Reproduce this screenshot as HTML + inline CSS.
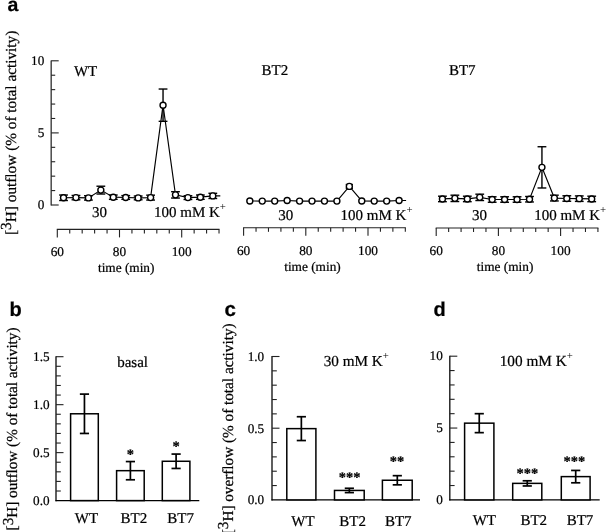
<!DOCTYPE html>
<html lang="en">
<head>
<meta charset="utf-8">
<title>Figure</title>
<style>
html, body { margin: 0; padding: 0; background: #fff; }
body { width: 606px; height: 532px; overflow: hidden; }
svg { display: block; }
text { white-space: pre; stroke: #000; stroke-width: 0.22px; text-rendering: geometricPrecision; }
</style>
</head>
<body>
<svg width="606" height="532" viewBox="0 0 606 532">
<rect x="0" y="0" width="606" height="532" fill="#fff"/>
<g id="panel-a">
<text x="7.50" y="10.60" font-size="19.5" text-anchor="start" font-family='"Liberation Sans", "DejaVu Sans", sans-serif' font-weight="bold" fill="#000" >a</text>
<line x1="51.20" y1="60.50" x2="51.20" y2="205.60" stroke="#4a4a4a" stroke-width="1.5" />
<line x1="51.20" y1="205.00" x2="58.70" y2="205.00" stroke="#222" stroke-width="1.1" />
<line x1="51.20" y1="190.58" x2="55.20" y2="190.58" stroke="#222" stroke-width="1.1" />
<line x1="51.20" y1="176.16" x2="55.20" y2="176.16" stroke="#222" stroke-width="1.1" />
<line x1="51.20" y1="161.74" x2="55.20" y2="161.74" stroke="#222" stroke-width="1.1" />
<line x1="51.20" y1="147.32" x2="55.20" y2="147.32" stroke="#222" stroke-width="1.1" />
<line x1="51.20" y1="132.90" x2="58.70" y2="132.90" stroke="#222" stroke-width="1.1" />
<line x1="51.20" y1="118.48" x2="55.20" y2="118.48" stroke="#222" stroke-width="1.1" />
<line x1="51.20" y1="104.06" x2="55.20" y2="104.06" stroke="#222" stroke-width="1.1" />
<line x1="51.20" y1="89.64" x2="55.20" y2="89.64" stroke="#222" stroke-width="1.1" />
<line x1="51.20" y1="75.22" x2="55.20" y2="75.22" stroke="#222" stroke-width="1.1" />
<line x1="51.20" y1="60.80" x2="58.70" y2="60.80" stroke="#222" stroke-width="1.1" />
<text x="44.30" y="209.30" font-size="13.2" text-anchor="end" font-family='"Liberation Serif", "DejaVu Serif", serif' font-weight="normal" fill="#000" >0</text>
<text x="44.30" y="137.20" font-size="13.2" text-anchor="end" font-family='"Liberation Serif", "DejaVu Serif", serif' font-weight="normal" fill="#000" >5</text>
<text x="44.30" y="65.10" font-size="13.2" text-anchor="end" font-family='"Liberation Serif", "DejaVu Serif", serif' font-weight="normal" fill="#000" >10</text>
<text transform="translate(15.60,235.00) rotate(-90)" font-size="15.3" font-family='"Liberation Serif", "DejaVu Serif", serif' fill="#000">[<tspan dy="-4.7">3</tspan><tspan dy="4.7">H] outflow (% of total activity)</tspan></text>
<line x1="56.80" y1="229.40" x2="219.52" y2="229.40" stroke="#222" stroke-width="1.1" />
<line x1="57.30" y1="229.40" x2="57.30" y2="237.40" stroke="#222" stroke-width="1.1" />
<line x1="69.74" y1="229.40" x2="69.74" y2="233.40" stroke="#222" stroke-width="1.1" />
<line x1="82.18" y1="229.40" x2="82.18" y2="233.40" stroke="#222" stroke-width="1.1" />
<line x1="94.62" y1="229.40" x2="94.62" y2="233.40" stroke="#222" stroke-width="1.1" />
<line x1="107.06" y1="229.40" x2="107.06" y2="233.40" stroke="#222" stroke-width="1.1" />
<line x1="119.50" y1="229.40" x2="119.50" y2="237.40" stroke="#222" stroke-width="1.1" />
<line x1="131.94" y1="229.40" x2="131.94" y2="233.40" stroke="#222" stroke-width="1.1" />
<line x1="144.38" y1="229.40" x2="144.38" y2="233.40" stroke="#222" stroke-width="1.1" />
<line x1="156.82" y1="229.40" x2="156.82" y2="233.40" stroke="#222" stroke-width="1.1" />
<line x1="169.26" y1="229.40" x2="169.26" y2="233.40" stroke="#222" stroke-width="1.1" />
<line x1="181.70" y1="229.40" x2="181.70" y2="237.40" stroke="#222" stroke-width="1.1" />
<line x1="194.14" y1="229.40" x2="194.14" y2="233.40" stroke="#222" stroke-width="1.1" />
<line x1="206.58" y1="229.40" x2="206.58" y2="233.40" stroke="#222" stroke-width="1.1" />
<line x1="219.02" y1="229.40" x2="219.02" y2="233.40" stroke="#222" stroke-width="1.1" />
<text x="57.30" y="256.20" font-size="13.3" text-anchor="middle" font-family='"Liberation Serif", "DejaVu Serif", serif' font-weight="normal" fill="#000" >60</text>
<text x="119.50" y="256.20" font-size="13.3" text-anchor="middle" font-family='"Liberation Serif", "DejaVu Serif", serif' font-weight="normal" fill="#000" >80</text>
<text x="181.70" y="256.20" font-size="13.3" text-anchor="middle" font-family='"Liberation Serif", "DejaVu Serif", serif' font-weight="normal" fill="#000" >100</text>
<text x="126.19" y="272.00" font-size="13.3" text-anchor="middle" font-family='"Liberation Serif", "DejaVu Serif", serif' font-weight="normal" fill="#000" >time (min)</text>
<polyline points="63.52,197.76 75.96,197.61 88.40,197.90 100.84,190.11 113.28,197.18 125.72,197.47 138.16,197.90 150.60,197.61 163.04,105.18 175.48,194.87 187.92,197.61 200.36,197.18 212.80,195.88 220.30,195.88" fill="none" stroke="#000" stroke-width="1.15" stroke-linejoin="miter"/>
<line x1="63.52" y1="195.02" x2="63.52" y2="200.50" stroke="#000" stroke-width="1.4" />
<line x1="59.12" y1="195.02" x2="67.92" y2="195.02" stroke="#000" stroke-width="1.4" />
<line x1="59.12" y1="200.50" x2="67.92" y2="200.50" stroke="#000" stroke-width="1.4" />
<line x1="75.96" y1="195.45" x2="75.96" y2="199.78" stroke="#000" stroke-width="1.4" />
<line x1="71.56" y1="195.45" x2="80.36" y2="195.45" stroke="#000" stroke-width="1.4" />
<line x1="71.56" y1="199.78" x2="80.36" y2="199.78" stroke="#000" stroke-width="1.4" />
<line x1="88.40" y1="195.74" x2="88.40" y2="200.06" stroke="#000" stroke-width="1.4" />
<line x1="84.00" y1="195.74" x2="92.80" y2="195.74" stroke="#000" stroke-width="1.4" />
<line x1="84.00" y1="200.06" x2="92.80" y2="200.06" stroke="#000" stroke-width="1.4" />
<line x1="100.84" y1="186.22" x2="100.84" y2="194.01" stroke="#000" stroke-width="1.4" />
<line x1="96.44" y1="186.22" x2="105.24" y2="186.22" stroke="#000" stroke-width="1.4" />
<line x1="96.44" y1="194.01" x2="105.24" y2="194.01" stroke="#000" stroke-width="1.4" />
<line x1="113.28" y1="195.02" x2="113.28" y2="199.34" stroke="#000" stroke-width="1.4" />
<line x1="108.88" y1="195.02" x2="117.68" y2="195.02" stroke="#000" stroke-width="1.4" />
<line x1="108.88" y1="199.34" x2="117.68" y2="199.34" stroke="#000" stroke-width="1.4" />
<line x1="125.72" y1="195.59" x2="125.72" y2="199.34" stroke="#000" stroke-width="1.4" />
<line x1="121.32" y1="195.59" x2="130.12" y2="195.59" stroke="#000" stroke-width="1.4" />
<line x1="121.32" y1="199.34" x2="130.12" y2="199.34" stroke="#000" stroke-width="1.4" />
<line x1="138.16" y1="196.03" x2="138.16" y2="199.78" stroke="#000" stroke-width="1.4" />
<line x1="133.76" y1="196.03" x2="142.56" y2="196.03" stroke="#000" stroke-width="1.4" />
<line x1="133.76" y1="199.78" x2="142.56" y2="199.78" stroke="#000" stroke-width="1.4" />
<line x1="150.60" y1="195.16" x2="150.60" y2="200.06" stroke="#000" stroke-width="1.4" />
<line x1="146.20" y1="195.16" x2="155.00" y2="195.16" stroke="#000" stroke-width="1.4" />
<line x1="146.20" y1="200.06" x2="155.00" y2="200.06" stroke="#000" stroke-width="1.4" />
<line x1="163.04" y1="89.03" x2="163.04" y2="121.33" stroke="#000" stroke-width="1.4" />
<line x1="158.64" y1="89.03" x2="167.44" y2="89.03" stroke="#000" stroke-width="1.4" />
<line x1="158.64" y1="121.33" x2="167.44" y2="121.33" stroke="#000" stroke-width="1.4" />
<line x1="175.48" y1="191.70" x2="175.48" y2="198.05" stroke="#000" stroke-width="1.4" />
<line x1="171.08" y1="191.70" x2="179.88" y2="191.70" stroke="#000" stroke-width="1.4" />
<line x1="171.08" y1="198.05" x2="179.88" y2="198.05" stroke="#000" stroke-width="1.4" />
<line x1="187.92" y1="195.74" x2="187.92" y2="199.49" stroke="#000" stroke-width="1.4" />
<line x1="183.52" y1="195.74" x2="192.32" y2="195.74" stroke="#000" stroke-width="1.4" />
<line x1="183.52" y1="199.49" x2="192.32" y2="199.49" stroke="#000" stroke-width="1.4" />
<line x1="200.36" y1="195.02" x2="200.36" y2="199.34" stroke="#000" stroke-width="1.4" />
<line x1="195.96" y1="195.02" x2="204.76" y2="195.02" stroke="#000" stroke-width="1.4" />
<line x1="195.96" y1="199.34" x2="204.76" y2="199.34" stroke="#000" stroke-width="1.4" />
<line x1="212.80" y1="193.29" x2="212.80" y2="198.48" stroke="#000" stroke-width="1.4" />
<line x1="208.40" y1="193.29" x2="217.20" y2="193.29" stroke="#000" stroke-width="1.4" />
<line x1="208.40" y1="198.48" x2="217.20" y2="198.48" stroke="#000" stroke-width="1.4" />
<circle cx="63.52" cy="197.76" r="3.0" fill="#fff" stroke="#000" stroke-width="1.4"/>
<circle cx="75.96" cy="197.61" r="3.0" fill="#fff" stroke="#000" stroke-width="1.4"/>
<circle cx="88.40" cy="197.90" r="3.0" fill="#fff" stroke="#000" stroke-width="1.4"/>
<circle cx="100.84" cy="190.11" r="3.0" fill="#fff" stroke="#000" stroke-width="1.4"/>
<circle cx="113.28" cy="197.18" r="3.0" fill="#fff" stroke="#000" stroke-width="1.4"/>
<circle cx="125.72" cy="197.47" r="3.0" fill="#fff" stroke="#000" stroke-width="1.4"/>
<circle cx="138.16" cy="197.90" r="3.0" fill="#fff" stroke="#000" stroke-width="1.4"/>
<circle cx="150.60" cy="197.61" r="3.0" fill="#fff" stroke="#000" stroke-width="1.4"/>
<circle cx="163.04" cy="105.18" r="3.0" fill="#fff" stroke="#000" stroke-width="1.4"/>
<circle cx="175.48" cy="194.87" r="3.0" fill="#fff" stroke="#000" stroke-width="1.4"/>
<circle cx="187.92" cy="197.61" r="3.0" fill="#fff" stroke="#000" stroke-width="1.4"/>
<circle cx="200.36" cy="197.18" r="3.0" fill="#fff" stroke="#000" stroke-width="1.4"/>
<circle cx="212.80" cy="195.88" r="3.0" fill="#fff" stroke="#000" stroke-width="1.4"/>
<text x="92.00" y="216.80" font-size="15" text-anchor="start" font-family='"Liberation Serif", "DejaVu Serif", serif' font-weight="normal" fill="#000" >30</text>
<text x="154.00" y="216.80" font-size="15" text-anchor="start" font-family='"Liberation Serif", "DejaVu Serif", serif' font-weight="normal" fill="#000" >100 mM K<tspan font-size="10.8" dy="-7.2" stroke-width="0">+</tspan></text>
<text x="73.90" y="75.70" font-size="15" text-anchor="start" font-family='"Liberation Serif", "DejaVu Serif", serif' font-weight="normal" fill="#000" >WT</text>
<line x1="243.10" y1="227.80" x2="405.82" y2="227.80" stroke="#222" stroke-width="1.1" />
<line x1="243.60" y1="227.80" x2="243.60" y2="235.80" stroke="#222" stroke-width="1.1" />
<line x1="256.04" y1="227.80" x2="256.04" y2="231.80" stroke="#222" stroke-width="1.1" />
<line x1="268.48" y1="227.80" x2="268.48" y2="231.80" stroke="#222" stroke-width="1.1" />
<line x1="280.92" y1="227.80" x2="280.92" y2="231.80" stroke="#222" stroke-width="1.1" />
<line x1="293.36" y1="227.80" x2="293.36" y2="231.80" stroke="#222" stroke-width="1.1" />
<line x1="305.80" y1="227.80" x2="305.80" y2="235.80" stroke="#222" stroke-width="1.1" />
<line x1="318.24" y1="227.80" x2="318.24" y2="231.80" stroke="#222" stroke-width="1.1" />
<line x1="330.68" y1="227.80" x2="330.68" y2="231.80" stroke="#222" stroke-width="1.1" />
<line x1="343.12" y1="227.80" x2="343.12" y2="231.80" stroke="#222" stroke-width="1.1" />
<line x1="355.56" y1="227.80" x2="355.56" y2="231.80" stroke="#222" stroke-width="1.1" />
<line x1="368.00" y1="227.80" x2="368.00" y2="235.80" stroke="#222" stroke-width="1.1" />
<line x1="380.44" y1="227.80" x2="380.44" y2="231.80" stroke="#222" stroke-width="1.1" />
<line x1="392.88" y1="227.80" x2="392.88" y2="231.80" stroke="#222" stroke-width="1.1" />
<line x1="405.32" y1="227.80" x2="405.32" y2="231.80" stroke="#222" stroke-width="1.1" />
<text x="243.60" y="255.10" font-size="13.3" text-anchor="middle" font-family='"Liberation Serif", "DejaVu Serif", serif' font-weight="normal" fill="#000" >60</text>
<text x="305.80" y="255.10" font-size="13.3" text-anchor="middle" font-family='"Liberation Serif", "DejaVu Serif", serif' font-weight="normal" fill="#000" >80</text>
<text x="368.00" y="255.10" font-size="13.3" text-anchor="middle" font-family='"Liberation Serif", "DejaVu Serif", serif' font-weight="normal" fill="#000" >100</text>
<text x="312.49" y="271.40" font-size="13.3" text-anchor="middle" font-family='"Liberation Serif", "DejaVu Serif", serif' font-weight="normal" fill="#000" >time (min)</text>
<polyline points="249.82,200.96 262.26,201.11 274.70,201.11 287.14,200.53 299.58,201.11 312.02,201.11 324.46,201.11 336.90,201.11 349.34,186.40 361.78,200.96 374.22,201.11 386.66,201.11 399.10,200.53 406.10,200.53" fill="none" stroke="#000" stroke-width="1.15" stroke-linejoin="miter"/>
<line x1="349.34" y1="184.52" x2="349.34" y2="188.27" stroke="#000" stroke-width="1.4" />
<line x1="345.74" y1="184.52" x2="352.94" y2="184.52" stroke="#000" stroke-width="1.4" />
<line x1="345.74" y1="188.27" x2="352.94" y2="188.27" stroke="#000" stroke-width="1.4" />
<circle cx="249.82" cy="200.96" r="3.0" fill="#fff" stroke="#000" stroke-width="1.4"/>
<circle cx="262.26" cy="201.11" r="3.0" fill="#fff" stroke="#000" stroke-width="1.4"/>
<circle cx="274.70" cy="201.11" r="3.0" fill="#fff" stroke="#000" stroke-width="1.4"/>
<circle cx="287.14" cy="200.53" r="3.0" fill="#fff" stroke="#000" stroke-width="1.4"/>
<circle cx="299.58" cy="201.11" r="3.0" fill="#fff" stroke="#000" stroke-width="1.4"/>
<circle cx="312.02" cy="201.11" r="3.0" fill="#fff" stroke="#000" stroke-width="1.4"/>
<circle cx="324.46" cy="201.11" r="3.0" fill="#fff" stroke="#000" stroke-width="1.4"/>
<circle cx="336.90" cy="201.11" r="3.0" fill="#fff" stroke="#000" stroke-width="1.4"/>
<circle cx="349.34" cy="186.40" r="3.0" fill="#fff" stroke="#000" stroke-width="1.4"/>
<circle cx="361.78" cy="200.96" r="3.0" fill="#fff" stroke="#000" stroke-width="1.4"/>
<circle cx="374.22" cy="201.11" r="3.0" fill="#fff" stroke="#000" stroke-width="1.4"/>
<circle cx="386.66" cy="201.11" r="3.0" fill="#fff" stroke="#000" stroke-width="1.4"/>
<circle cx="399.10" cy="200.53" r="3.0" fill="#fff" stroke="#000" stroke-width="1.4"/>
<text x="278.30" y="220.00" font-size="15" text-anchor="start" font-family='"Liberation Serif", "DejaVu Serif", serif' font-weight="normal" fill="#000" >30</text>
<text x="340.60" y="220.00" font-size="15" text-anchor="start" font-family='"Liberation Serif", "DejaVu Serif", serif' font-weight="normal" fill="#000" >100 mM K<tspan font-size="10.8" dy="-7.2" stroke-width="0">+</tspan></text>
<text x="261.50" y="74.80" font-size="15" text-anchor="start" font-family='"Liberation Serif", "DejaVu Serif", serif' font-weight="normal" fill="#000" >BT2</text>
<line x1="435.70" y1="228.00" x2="598.42" y2="228.00" stroke="#222" stroke-width="1.1" />
<line x1="436.20" y1="228.00" x2="436.20" y2="236.00" stroke="#222" stroke-width="1.1" />
<line x1="448.64" y1="228.00" x2="448.64" y2="232.00" stroke="#222" stroke-width="1.1" />
<line x1="461.08" y1="228.00" x2="461.08" y2="232.00" stroke="#222" stroke-width="1.1" />
<line x1="473.52" y1="228.00" x2="473.52" y2="232.00" stroke="#222" stroke-width="1.1" />
<line x1="485.96" y1="228.00" x2="485.96" y2="232.00" stroke="#222" stroke-width="1.1" />
<line x1="498.40" y1="228.00" x2="498.40" y2="236.00" stroke="#222" stroke-width="1.1" />
<line x1="510.84" y1="228.00" x2="510.84" y2="232.00" stroke="#222" stroke-width="1.1" />
<line x1="523.28" y1="228.00" x2="523.28" y2="232.00" stroke="#222" stroke-width="1.1" />
<line x1="535.72" y1="228.00" x2="535.72" y2="232.00" stroke="#222" stroke-width="1.1" />
<line x1="548.16" y1="228.00" x2="548.16" y2="232.00" stroke="#222" stroke-width="1.1" />
<line x1="560.60" y1="228.00" x2="560.60" y2="236.00" stroke="#222" stroke-width="1.1" />
<line x1="573.04" y1="228.00" x2="573.04" y2="232.00" stroke="#222" stroke-width="1.1" />
<line x1="585.48" y1="228.00" x2="585.48" y2="232.00" stroke="#222" stroke-width="1.1" />
<line x1="597.92" y1="228.00" x2="597.92" y2="232.00" stroke="#222" stroke-width="1.1" />
<text x="436.20" y="255.10" font-size="13.3" text-anchor="middle" font-family='"Liberation Serif", "DejaVu Serif", serif' font-weight="normal" fill="#000" >60</text>
<text x="498.40" y="255.10" font-size="13.3" text-anchor="middle" font-family='"Liberation Serif", "DejaVu Serif", serif' font-weight="normal" fill="#000" >80</text>
<text x="560.60" y="255.10" font-size="13.3" text-anchor="middle" font-family='"Liberation Serif", "DejaVu Serif", serif' font-weight="normal" fill="#000" >100</text>
<text x="505.09" y="271.40" font-size="13.3" text-anchor="middle" font-family='"Liberation Serif", "DejaVu Serif", serif' font-weight="normal" fill="#000" >time (min)</text>
<polyline points="442.42,198.94 454.86,198.37 467.30,198.94 479.74,197.36 492.18,199.52 504.62,199.52 517.06,199.52 529.50,199.23 541.94,167.36 554.38,198.08 566.82,198.51 579.26,198.66 591.70,198.94" fill="none" stroke="#000" stroke-width="1.15" stroke-linejoin="miter"/>
<line x1="442.42" y1="196.20" x2="442.42" y2="201.68" stroke="#000" stroke-width="1.4" />
<line x1="438.02" y1="196.20" x2="446.82" y2="196.20" stroke="#000" stroke-width="1.4" />
<line x1="438.02" y1="201.68" x2="446.82" y2="201.68" stroke="#000" stroke-width="1.4" />
<line x1="454.86" y1="195.19" x2="454.86" y2="201.54" stroke="#000" stroke-width="1.4" />
<line x1="450.46" y1="195.19" x2="459.26" y2="195.19" stroke="#000" stroke-width="1.4" />
<line x1="450.46" y1="201.54" x2="459.26" y2="201.54" stroke="#000" stroke-width="1.4" />
<line x1="467.30" y1="196.20" x2="467.30" y2="201.68" stroke="#000" stroke-width="1.4" />
<line x1="462.90" y1="196.20" x2="471.70" y2="196.20" stroke="#000" stroke-width="1.4" />
<line x1="462.90" y1="201.68" x2="471.70" y2="201.68" stroke="#000" stroke-width="1.4" />
<line x1="479.74" y1="194.19" x2="479.74" y2="200.53" stroke="#000" stroke-width="1.4" />
<line x1="475.34" y1="194.19" x2="484.14" y2="194.19" stroke="#000" stroke-width="1.4" />
<line x1="475.34" y1="200.53" x2="484.14" y2="200.53" stroke="#000" stroke-width="1.4" />
<line x1="492.18" y1="196.78" x2="492.18" y2="202.26" stroke="#000" stroke-width="1.4" />
<line x1="487.78" y1="196.78" x2="496.58" y2="196.78" stroke="#000" stroke-width="1.4" />
<line x1="487.78" y1="202.26" x2="496.58" y2="202.26" stroke="#000" stroke-width="1.4" />
<line x1="504.62" y1="196.78" x2="504.62" y2="202.26" stroke="#000" stroke-width="1.4" />
<line x1="500.22" y1="196.78" x2="509.02" y2="196.78" stroke="#000" stroke-width="1.4" />
<line x1="500.22" y1="202.26" x2="509.02" y2="202.26" stroke="#000" stroke-width="1.4" />
<line x1="517.06" y1="196.78" x2="517.06" y2="202.26" stroke="#000" stroke-width="1.4" />
<line x1="512.66" y1="196.78" x2="521.46" y2="196.78" stroke="#000" stroke-width="1.4" />
<line x1="512.66" y1="202.26" x2="521.46" y2="202.26" stroke="#000" stroke-width="1.4" />
<line x1="529.50" y1="196.49" x2="529.50" y2="201.97" stroke="#000" stroke-width="1.4" />
<line x1="525.10" y1="196.49" x2="533.90" y2="196.49" stroke="#000" stroke-width="1.4" />
<line x1="525.10" y1="201.97" x2="533.90" y2="201.97" stroke="#000" stroke-width="1.4" />
<line x1="541.94" y1="146.74" x2="541.94" y2="187.98" stroke="#000" stroke-width="1.4" />
<line x1="537.54" y1="146.74" x2="546.34" y2="146.74" stroke="#000" stroke-width="1.4" />
<line x1="537.54" y1="187.98" x2="546.34" y2="187.98" stroke="#000" stroke-width="1.4" />
<line x1="554.38" y1="195.19" x2="554.38" y2="200.96" stroke="#000" stroke-width="1.4" />
<line x1="549.98" y1="195.19" x2="558.78" y2="195.19" stroke="#000" stroke-width="1.4" />
<line x1="549.98" y1="200.96" x2="558.78" y2="200.96" stroke="#000" stroke-width="1.4" />
<line x1="566.82" y1="195.77" x2="566.82" y2="201.25" stroke="#000" stroke-width="1.4" />
<line x1="562.42" y1="195.77" x2="571.22" y2="195.77" stroke="#000" stroke-width="1.4" />
<line x1="562.42" y1="201.25" x2="571.22" y2="201.25" stroke="#000" stroke-width="1.4" />
<line x1="579.26" y1="195.92" x2="579.26" y2="201.40" stroke="#000" stroke-width="1.4" />
<line x1="574.86" y1="195.92" x2="583.66" y2="195.92" stroke="#000" stroke-width="1.4" />
<line x1="574.86" y1="201.40" x2="583.66" y2="201.40" stroke="#000" stroke-width="1.4" />
<line x1="591.70" y1="196.20" x2="591.70" y2="201.68" stroke="#000" stroke-width="1.4" />
<line x1="587.30" y1="196.20" x2="596.10" y2="196.20" stroke="#000" stroke-width="1.4" />
<line x1="587.30" y1="201.68" x2="596.10" y2="201.68" stroke="#000" stroke-width="1.4" />
<circle cx="442.42" cy="198.94" r="3.0" fill="#fff" stroke="#000" stroke-width="1.4"/>
<circle cx="454.86" cy="198.37" r="3.0" fill="#fff" stroke="#000" stroke-width="1.4"/>
<circle cx="467.30" cy="198.94" r="3.0" fill="#fff" stroke="#000" stroke-width="1.4"/>
<circle cx="479.74" cy="197.36" r="3.0" fill="#fff" stroke="#000" stroke-width="1.4"/>
<circle cx="492.18" cy="199.52" r="3.0" fill="#fff" stroke="#000" stroke-width="1.4"/>
<circle cx="504.62" cy="199.52" r="3.0" fill="#fff" stroke="#000" stroke-width="1.4"/>
<circle cx="517.06" cy="199.52" r="3.0" fill="#fff" stroke="#000" stroke-width="1.4"/>
<circle cx="529.50" cy="199.23" r="3.0" fill="#fff" stroke="#000" stroke-width="1.4"/>
<circle cx="541.94" cy="167.36" r="3.0" fill="#fff" stroke="#000" stroke-width="1.4"/>
<circle cx="554.38" cy="198.08" r="3.0" fill="#fff" stroke="#000" stroke-width="1.4"/>
<circle cx="566.82" cy="198.51" r="3.0" fill="#fff" stroke="#000" stroke-width="1.4"/>
<circle cx="579.26" cy="198.66" r="3.0" fill="#fff" stroke="#000" stroke-width="1.4"/>
<circle cx="591.70" cy="198.94" r="3.0" fill="#fff" stroke="#000" stroke-width="1.4"/>
<text x="472.00" y="220.20" font-size="15" text-anchor="start" font-family='"Liberation Serif", "DejaVu Serif", serif' font-weight="normal" fill="#000" >30</text>
<text x="534.20" y="220.20" font-size="15" text-anchor="start" font-family='"Liberation Serif", "DejaVu Serif", serif' font-weight="normal" fill="#000" >100 mM K<tspan font-size="10.8" dy="-7.2" stroke-width="0">+</tspan></text>
<text x="448.90" y="74.80" font-size="15" text-anchor="start" font-family='"Liberation Serif", "DejaVu Serif", serif' font-weight="normal" fill="#000" >BT7</text>
</g>
<g id="panel-b">
<text x="9.50" y="316.20" font-size="20" text-anchor="start" font-family='"Liberation Sans", "DejaVu Sans", sans-serif' font-weight="bold" fill="#000" >b</text>
<text transform="translate(17.40,530.40) rotate(-90)" font-size="15.2" font-family='"Liberation Serif", "DejaVu Serif", serif' fill="#000">[<tspan dy="-4.7">3</tspan><tspan dy="4.7">H] outflow (% of total activity)</tspan></text>
<line x1="56.00" y1="356.20" x2="56.00" y2="501.20" stroke="#1a1a1a" stroke-width="1.4" />
<line x1="55.50" y1="500.60" x2="199.30" y2="500.60" stroke="#000" stroke-width="1.3" />
<line x1="56.00" y1="491.01" x2="60.80" y2="491.01" stroke="#222" stroke-width="1.1" />
<line x1="56.00" y1="481.41" x2="60.80" y2="481.41" stroke="#222" stroke-width="1.1" />
<line x1="56.00" y1="471.82" x2="60.80" y2="471.82" stroke="#222" stroke-width="1.1" />
<line x1="56.00" y1="462.23" x2="60.80" y2="462.23" stroke="#222" stroke-width="1.1" />
<line x1="56.00" y1="452.63" x2="63.50" y2="452.63" stroke="#222" stroke-width="1.1" />
<line x1="56.00" y1="443.04" x2="60.80" y2="443.04" stroke="#222" stroke-width="1.1" />
<line x1="56.00" y1="433.45" x2="60.80" y2="433.45" stroke="#222" stroke-width="1.1" />
<line x1="56.00" y1="423.85" x2="60.80" y2="423.85" stroke="#222" stroke-width="1.1" />
<line x1="56.00" y1="414.26" x2="60.80" y2="414.26" stroke="#222" stroke-width="1.1" />
<line x1="56.00" y1="404.67" x2="63.50" y2="404.67" stroke="#222" stroke-width="1.1" />
<line x1="56.00" y1="395.07" x2="60.80" y2="395.07" stroke="#222" stroke-width="1.1" />
<line x1="56.00" y1="385.48" x2="60.80" y2="385.48" stroke="#222" stroke-width="1.1" />
<line x1="56.00" y1="375.89" x2="60.80" y2="375.89" stroke="#222" stroke-width="1.1" />
<line x1="56.00" y1="366.29" x2="60.80" y2="366.29" stroke="#222" stroke-width="1.1" />
<line x1="56.00" y1="356.70" x2="63.50" y2="356.70" stroke="#222" stroke-width="1.1" />
<text x="49.60" y="505.00" font-size="13.2" text-anchor="end" font-family='"Liberation Serif", "DejaVu Serif", serif' font-weight="normal" fill="#000" >0.0</text>
<text x="49.60" y="457.03" font-size="13.2" text-anchor="end" font-family='"Liberation Serif", "DejaVu Serif", serif' font-weight="normal" fill="#000" >0.5</text>
<text x="49.60" y="409.07" font-size="13.2" text-anchor="end" font-family='"Liberation Serif", "DejaVu Serif", serif' font-weight="normal" fill="#000" >1.0</text>
<text x="49.60" y="361.10" font-size="13.2" text-anchor="end" font-family='"Liberation Serif", "DejaVu Serif", serif' font-weight="normal" fill="#000" >1.5</text>
<rect x="70.60" y="413.78" width="27.70" height="86.82" fill="#fff" stroke="#000" stroke-width="1.5"/>
<line x1="84.45" y1="394.11" x2="84.45" y2="433.45" stroke="#000" stroke-width="1.7" />
<line x1="79.85" y1="394.11" x2="89.05" y2="394.11" stroke="#000" stroke-width="1.7" />
<line x1="79.85" y1="433.45" x2="89.05" y2="433.45" stroke="#000" stroke-width="1.7" />
<rect x="116.60" y="470.67" width="27.60" height="29.93" fill="#fff" stroke="#000" stroke-width="1.5"/>
<line x1="130.40" y1="461.56" x2="130.40" y2="479.78" stroke="#000" stroke-width="1.7" />
<line x1="125.80" y1="461.56" x2="135.00" y2="461.56" stroke="#000" stroke-width="1.7" />
<line x1="125.80" y1="479.78" x2="135.00" y2="479.78" stroke="#000" stroke-width="1.7" />
<rect x="162.30" y="461.27" width="27.60" height="39.33" fill="#fff" stroke="#000" stroke-width="1.5"/>
<line x1="176.10" y1="454.07" x2="176.10" y2="468.46" stroke="#000" stroke-width="1.7" />
<line x1="171.50" y1="454.07" x2="180.70" y2="454.07" stroke="#000" stroke-width="1.7" />
<line x1="171.50" y1="468.46" x2="180.70" y2="468.46" stroke="#000" stroke-width="1.7" />
<text x="86.40" y="523.00" font-size="15" text-anchor="middle" font-family='"Liberation Serif", "DejaVu Serif", serif' font-weight="normal" fill="#000" >WT</text>
<text x="133.90" y="523.00" font-size="15" text-anchor="middle" font-family='"Liberation Serif", "DejaVu Serif", serif' font-weight="normal" fill="#000" >BT2</text>
<text x="180.60" y="523.00" font-size="15" text-anchor="middle" font-family='"Liberation Serif", "DejaVu Serif", serif' font-weight="normal" fill="#000" >BT7</text>
<text x="130.40" y="458.80" font-size="14.5" text-anchor="middle" font-family='"Liberation Serif", "DejaVu Serif", serif' font-weight="bold" fill="#000" >*</text>
<text x="176.00" y="450.80" font-size="14.5" text-anchor="middle" font-family='"Liberation Serif", "DejaVu Serif", serif' font-weight="bold" fill="#000" >*</text>
<text x="132.60" y="367.30" font-size="15" text-anchor="middle" font-family='"Liberation Serif", "DejaVu Serif", serif' font-weight="normal" fill="#000" >basal</text>
</g>
<g id="panel-c">
<text x="224.60" y="316.30" font-size="20.5" text-anchor="start" font-family='"Liberation Sans", "DejaVu Sans", sans-serif' font-weight="bold" fill="#000" >c</text>
<text transform="translate(232.60,534.30) rotate(-90)" font-size="15.22" font-family='"Liberation Serif", "DejaVu Serif", serif' fill="#000">[<tspan dy="-4.7">3</tspan><tspan dy="4.7">H] overflow (% of total activity)</tspan></text>
<line x1="272.00" y1="356.00" x2="272.00" y2="500.50" stroke="#1a1a1a" stroke-width="1.4" />
<line x1="271.50" y1="499.90" x2="420.00" y2="499.90" stroke="#000" stroke-width="1.3" />
<line x1="272.00" y1="485.56" x2="276.80" y2="485.56" stroke="#222" stroke-width="1.1" />
<line x1="272.00" y1="471.22" x2="276.80" y2="471.22" stroke="#222" stroke-width="1.1" />
<line x1="272.00" y1="456.88" x2="276.80" y2="456.88" stroke="#222" stroke-width="1.1" />
<line x1="272.00" y1="442.54" x2="276.80" y2="442.54" stroke="#222" stroke-width="1.1" />
<line x1="272.00" y1="428.20" x2="279.50" y2="428.20" stroke="#222" stroke-width="1.1" />
<line x1="272.00" y1="413.86" x2="276.80" y2="413.86" stroke="#222" stroke-width="1.1" />
<line x1="272.00" y1="399.52" x2="276.80" y2="399.52" stroke="#222" stroke-width="1.1" />
<line x1="272.00" y1="385.18" x2="276.80" y2="385.18" stroke="#222" stroke-width="1.1" />
<line x1="272.00" y1="370.84" x2="276.80" y2="370.84" stroke="#222" stroke-width="1.1" />
<line x1="272.00" y1="356.50" x2="279.50" y2="356.50" stroke="#222" stroke-width="1.1" />
<text x="264.20" y="504.30" font-size="13.2" text-anchor="end" font-family='"Liberation Serif", "DejaVu Serif", serif' font-weight="normal" fill="#000" >0.0</text>
<text x="264.20" y="432.60" font-size="13.2" text-anchor="end" font-family='"Liberation Serif", "DejaVu Serif", serif' font-weight="normal" fill="#000" >0.5</text>
<text x="264.20" y="360.90" font-size="13.2" text-anchor="end" font-family='"Liberation Serif", "DejaVu Serif", serif' font-weight="normal" fill="#000" >1.0</text>
<rect x="286.80" y="428.63" width="29.10" height="71.27" fill="#fff" stroke="#000" stroke-width="1.5"/>
<line x1="301.35" y1="416.73" x2="301.35" y2="440.53" stroke="#000" stroke-width="1.7" />
<line x1="296.75" y1="416.73" x2="305.95" y2="416.73" stroke="#000" stroke-width="1.7" />
<line x1="296.75" y1="440.53" x2="305.95" y2="440.53" stroke="#000" stroke-width="1.7" />
<rect x="334.50" y="490.44" width="29.70" height="9.46" fill="#fff" stroke="#000" stroke-width="1.5"/>
<line x1="349.35" y1="488.28" x2="349.35" y2="492.59" stroke="#000" stroke-width="1.7" />
<line x1="344.75" y1="488.28" x2="353.95" y2="488.28" stroke="#000" stroke-width="1.7" />
<line x1="344.75" y1="492.59" x2="353.95" y2="492.59" stroke="#000" stroke-width="1.7" />
<rect x="382.40" y="480.25" width="29.80" height="19.65" fill="#fff" stroke="#000" stroke-width="1.5"/>
<line x1="397.30" y1="475.67" x2="397.30" y2="484.84" stroke="#000" stroke-width="1.7" />
<line x1="392.70" y1="475.67" x2="401.90" y2="475.67" stroke="#000" stroke-width="1.7" />
<line x1="392.70" y1="484.84" x2="401.90" y2="484.84" stroke="#000" stroke-width="1.7" />
<text x="303.00" y="525.50" font-size="15" text-anchor="middle" font-family='"Liberation Serif", "DejaVu Serif", serif' font-weight="normal" fill="#000" >WT</text>
<text x="352.60" y="525.50" font-size="15" text-anchor="middle" font-family='"Liberation Serif", "DejaVu Serif", serif' font-weight="normal" fill="#000" >BT2</text>
<text x="398.30" y="525.50" font-size="15" text-anchor="middle" font-family='"Liberation Serif", "DejaVu Serif", serif' font-weight="normal" fill="#000" >BT7</text>
<text x="349.50" y="482.20" font-size="14.5" text-anchor="middle" font-family='"Liberation Serif", "DejaVu Serif", serif' font-weight="bold" fill="#000" >***</text>
<text x="397.10" y="466.20" font-size="14.5" text-anchor="middle" font-family='"Liberation Serif", "DejaVu Serif", serif' font-weight="bold" fill="#000" >**</text>
<text x="323.70" y="366.00" font-size="15.2" text-anchor="start" font-family='"Liberation Serif", "DejaVu Serif", serif' font-weight="normal" fill="#000" >30 mM K<tspan font-size="10.8" dy="-7.2" stroke-width="0">+</tspan></text>
</g>
<g id="panel-d">
<text x="433.40" y="316.30" font-size="20" text-anchor="start" font-family='"Liberation Sans", "DejaVu Sans", sans-serif' font-weight="bold" fill="#000" >d</text>
<line x1="449.80" y1="355.70" x2="449.80" y2="500.50" stroke="#1a1a1a" stroke-width="1.4" />
<line x1="449.30" y1="499.90" x2="599.70" y2="499.90" stroke="#000" stroke-width="1.3" />
<line x1="449.80" y1="485.53" x2="454.60" y2="485.53" stroke="#222" stroke-width="1.1" />
<line x1="449.80" y1="471.16" x2="454.60" y2="471.16" stroke="#222" stroke-width="1.1" />
<line x1="449.80" y1="456.79" x2="454.60" y2="456.79" stroke="#222" stroke-width="1.1" />
<line x1="449.80" y1="442.42" x2="454.60" y2="442.42" stroke="#222" stroke-width="1.1" />
<line x1="449.80" y1="428.05" x2="457.30" y2="428.05" stroke="#222" stroke-width="1.1" />
<line x1="449.80" y1="413.68" x2="454.60" y2="413.68" stroke="#222" stroke-width="1.1" />
<line x1="449.80" y1="399.31" x2="454.60" y2="399.31" stroke="#222" stroke-width="1.1" />
<line x1="449.80" y1="384.94" x2="454.60" y2="384.94" stroke="#222" stroke-width="1.1" />
<line x1="449.80" y1="370.57" x2="454.60" y2="370.57" stroke="#222" stroke-width="1.1" />
<line x1="449.80" y1="356.20" x2="457.30" y2="356.20" stroke="#222" stroke-width="1.1" />
<text x="442.80" y="504.30" font-size="13.2" text-anchor="end" font-family='"Liberation Serif", "DejaVu Serif", serif' font-weight="normal" fill="#000" >0</text>
<text x="442.80" y="432.45" font-size="13.2" text-anchor="end" font-family='"Liberation Serif", "DejaVu Serif", serif' font-weight="normal" fill="#000" >5</text>
<text x="442.80" y="359.70" font-size="13.2" text-anchor="end" font-family='"Liberation Serif", "DejaVu Serif", serif' font-weight="normal" fill="#000" >10</text>
<rect x="464.60" y="423.16" width="29.30" height="76.74" fill="#fff" stroke="#000" stroke-width="1.5"/>
<line x1="479.25" y1="413.68" x2="479.25" y2="432.65" stroke="#000" stroke-width="1.7" />
<line x1="474.65" y1="413.68" x2="483.85" y2="413.68" stroke="#000" stroke-width="1.7" />
<line x1="474.65" y1="432.65" x2="483.85" y2="432.65" stroke="#000" stroke-width="1.7" />
<rect x="512.70" y="483.37" width="29.10" height="16.53" fill="#fff" stroke="#000" stroke-width="1.5"/>
<line x1="527.25" y1="480.79" x2="527.25" y2="485.96" stroke="#000" stroke-width="1.7" />
<line x1="522.65" y1="480.79" x2="531.85" y2="480.79" stroke="#000" stroke-width="1.7" />
<line x1="522.65" y1="485.96" x2="531.85" y2="485.96" stroke="#000" stroke-width="1.7" />
<rect x="561.30" y="476.62" width="28.80" height="23.28" fill="#fff" stroke="#000" stroke-width="1.5"/>
<line x1="575.70" y1="470.44" x2="575.70" y2="482.80" stroke="#000" stroke-width="1.7" />
<line x1="571.10" y1="470.44" x2="580.30" y2="470.44" stroke="#000" stroke-width="1.7" />
<line x1="571.10" y1="482.80" x2="580.30" y2="482.80" stroke="#000" stroke-width="1.7" />
<text x="484.30" y="525.40" font-size="15" text-anchor="middle" font-family='"Liberation Serif", "DejaVu Serif", serif' font-weight="normal" fill="#000" >WT</text>
<text x="533.80" y="525.40" font-size="15" text-anchor="middle" font-family='"Liberation Serif", "DejaVu Serif", serif' font-weight="normal" fill="#000" >BT2</text>
<text x="580.00" y="525.40" font-size="15" text-anchor="middle" font-family='"Liberation Serif", "DejaVu Serif", serif' font-weight="normal" fill="#000" >BT7</text>
<text x="527.40" y="477.50" font-size="14.5" text-anchor="middle" font-family='"Liberation Serif", "DejaVu Serif", serif' font-weight="bold" fill="#000" >***</text>
<text x="574.40" y="466.00" font-size="14.5" text-anchor="middle" font-family='"Liberation Serif", "DejaVu Serif", serif' font-weight="bold" fill="#000" >***</text>
<text x="499.70" y="366.30" font-size="15.3" text-anchor="start" font-family='"Liberation Serif", "DejaVu Serif", serif' font-weight="normal" fill="#000" >100 mM K<tspan font-size="10.8" dy="-7.2" stroke-width="0">+</tspan></text>
</g>
</svg>
</body>
</html>
